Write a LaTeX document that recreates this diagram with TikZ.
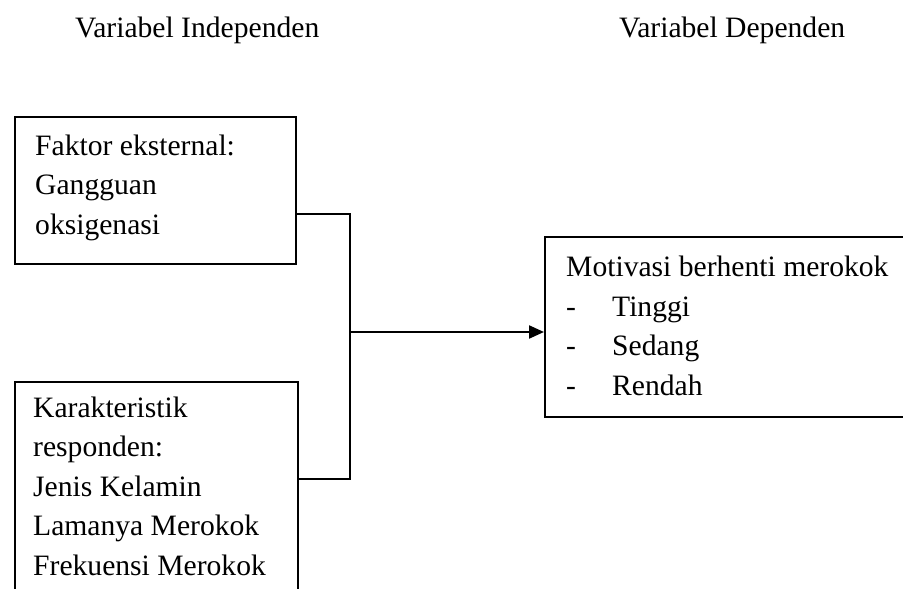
\documentclass[tikz,border=0pt]{standalone}
\usepackage{fontspec}
\setmainfont{Liberation Serif}
\usetikzlibrary{arrows.meta}
\begin{document}
\begin{tikzpicture}[x=1pt,y=-1pt,
  boxframe/.style={draw=black, line width=2.2pt, inner sep=0pt, rectangle},
  txt/.style={inner sep=0pt, align=left, font=\fontsize{29.6}{39.5}\selectfont, anchor=base west},
  link/.style={draw=black, line width=2.2pt},
  every node/.style={text=black}]
\useasboundingbox (0,0) rectangle (903,589);
\clip (0,0) rectangle (903,589);
\fill[white] (0,0) rectangle (903,589);

% headings
\node[txt] (hInd) at (75,37) {Variabel Independen};
\node[txt] (hDep) at (619,37) {Variabel Dependen};

% boxes
\node[boxframe, anchor=north west, minimum width=281pt, minimum height=147pt] (b1) at (14,116) {};
\node[boxframe, anchor=north west, minimum width=283pt, minimum height=240pt] (b2) at (14,381) {};
\node[boxframe, anchor=north west, minimum width=400pt, minimum height=180pt] (b3) at (544,236) {};

% texts
\node[txt] (t1) at (35,234) {Faktor eksternal:\\Gangguan\\oksigenasi};
\node[txt] (t2) at (33,575) {Karakteristik\\responden:\\Jenis Kelamin\\Lamanya Merokok\\Frekuensi Merokok};
\node[txt] (t3) at (566,395) {Motivasi berhenti merokok\\\makebox[46pt][l]{-}Tinggi\\\makebox[46pt][l]{-}Sedang\\\makebox[46pt][l]{-}Rendah};

% connectors
\coordinate (j1) at (350,214);
\coordinate (j2) at (350,479);
\coordinate (jm) at (350,332);
\draw[link] (b1.east |- j1) -- (j1) -- (j2) -- (b2.east |- j2);
\draw[link, -{Triangle[length=15pt,width=13pt]}] (jm) -- (b3.west |- jm);
\end{tikzpicture}
\end{document}
